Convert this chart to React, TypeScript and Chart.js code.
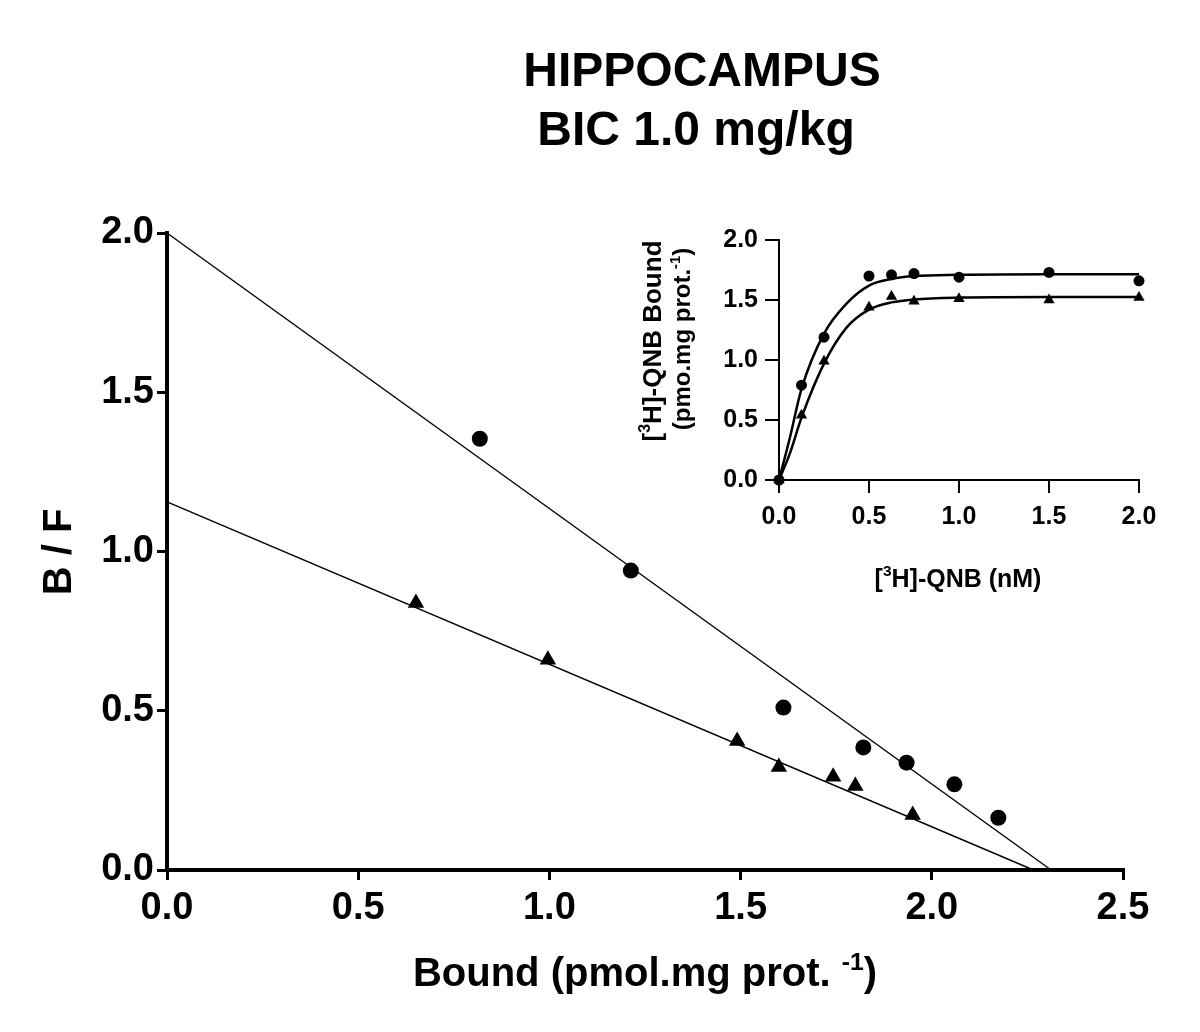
import React, { useEffect, useRef } from 'react';
import { Chart, registerables } from 'chart.js';

Chart.register(...registerables);

// ---------- Main (Scatchard) data ----------
const mainCircleX = [0.818, 1.213, 1.612, 1.821, 1.934, 2.059, 2.174];
const mainCircleY = [1.354, 0.94, 0.51, 0.385, 0.337, 0.269, 0.164];
const mainTriX = [0.651, 0.996, 1.491, 1.6, 1.742, 1.8, 1.95];
const mainTriY = [0.838, 0.66, 0.405, 0.323, 0.293, 0.264, 0.173];
const fitCircleX = [0, 2.312];
const fitCircleY = [2.0, 0];
const fitTriX = [0, 2.266];
const fitTriY = [1.156, 0];
const mainXTicks = [0, 0.5, 1.0, 1.5, 2.0, 2.5];
const mainYTicks = [0, 0.5, 1.0, 1.5, 2.0];

// ---------- Inset (saturation) data ----------
const insetX = [0, 0.125, 0.25, 0.5, 0.625, 0.75, 1.0, 1.5, 2.0];
const insetCircleY = [0, 0.79, 1.19, 1.7, 1.71, 1.72, 1.69, 1.73, 1.66];
const insetTriY = [0, 0.54, 0.99, 1.44, 1.53, 1.49, 1.51, 1.5, 1.52];
const curveX = [0, 0.06, 0.125, 0.25, 0.375, 0.5, 0.625, 0.75, 1.0, 1.5, 2.0];
const curveCircleY = [0, 0.35, 0.76, 1.22, 1.47, 1.62, 1.675, 1.7, 1.71, 1.715, 1.715];
const curveTriY = [0, 0.22, 0.52, 0.97, 1.27, 1.42, 1.48, 1.505, 1.52, 1.525, 1.525];
const insetXTicks = [0, 0.5, 1.0, 1.5, 2.0];
const insetYTicks = [0, 0.5, 1.0, 1.5, 2.0];

const FAMILY = "'Liberation Sans', Arial, Helvetica, sans-serif";

type Seg = { t: string; sup?: boolean };

function drawRich(ctx: CanvasRenderingContext2D, segs: Seg[], cx: number, cy: number, size: number, rot = 0) {
  ctx.save();
  ctx.translate(cx, cy);
  ctx.rotate(rot);
  ctx.fillStyle = '#000';
  ctx.textBaseline = 'alphabetic';
  ctx.textAlign = 'left';
  const supSize = size * 0.62;
  let total = 0;
  const widths = segs.map((s) => {
    ctx.font = `bold ${s.sup ? supSize : size}px ${FAMILY}`;
    const w = ctx.measureText(s.t).width;
    total += w;
    return w;
  });
  let x = -total / 2;
  const base = size * 0.358;
  segs.forEach((s, i) => {
    ctx.font = `bold ${s.sup ? supSize : size}px ${FAMILY}`;
    ctx.fillText(s.t, x, s.sup ? base - size * 0.42 : base);
    x += widths[i];
  });
  ctx.restore();
}

const pts = (xs: number[], ys: number[]) => xs.map((x, i) => ({ x, y: ys[i] }));

export default function App() {
  const mainRef = useRef<HTMLCanvasElement>(null);
  const insetRef = useRef<HTMLCanvasElement>(null);

  useEffect(() => {
    const mainPlugin = {
      id: 'mainText',
      afterDraw(chart: any) {
        const ctx = chart.ctx as CanvasRenderingContext2D;
        drawRich(ctx, [{ t: 'HIPPOCAMPUS' }], 702, 69, 48);
        drawRich(ctx, [{ t: 'BIC 1.0 mg/kg' }], 696, 128, 48);
        drawRich(ctx, [{ t: 'Bound (pmol.mg prot. ' }, { t: '-1', sup: true }, { t: ')' }], 645, 972, 40);
        drawRich(ctx, [{ t: 'B / F' }], 57, 552, 40, -Math.PI / 2);
      },
    };

    const main = new Chart(mainRef.current!, {
      type: 'scatter',
      data: {
        datasets: [
          {
            data: pts(fitCircleX, fitCircleY),
            showLine: true,
            borderColor: '#000',
            borderWidth: 1.4,
            pointRadius: 0,
            clip: false,
          },
          {
            data: pts(fitTriX, fitTriY),
            showLine: true,
            borderColor: '#000',
            borderWidth: 1.4,
            pointRadius: 0,
            clip: false,
          },
          {
            data: pts(mainCircleX, mainCircleY),
            pointStyle: 'circle',
            pointRadius: 8,
            backgroundColor: '#000',
            borderColor: '#000',
            borderWidth: 0,
            clip: false,
          },
          {
            data: pts(mainTriX, mainTriY),
            pointStyle: 'triangle',
            pointRadius: 9.5,
            backgroundColor: '#000',
            borderColor: '#000',
            borderWidth: 0,
            clip: false,
          },
        ],
      },
      options: {
        animation: false,
        responsive: false,
        events: [],
        layout: { padding: { top: 233, right: 77, left: 0, bottom: 0 } },
        plugins: { legend: { display: false }, tooltip: { enabled: false }, title: { display: false } },
        scales: {
          x: {
            type: 'linear',
            min: 0,
            max: 2.5,
            afterBuildTicks: (s: any) => {
              s.ticks = mainXTicks.map((v) => ({ value: v }));
            },
            afterFit: (s: any) => {
              s.height = 162;
            },
            ticks: {
              callback: (v: any) => Number(v).toFixed(1),
              font: { family: FAMILY, size: 38, weight: 'bold' },
              color: '#000',
              padding: 6,
              maxRotation: 0,
              autoSkip: false,
            },
            grid: { drawOnChartArea: false, drawTicks: true, tickLength: 10, color: '#000', lineWidth: 3 },
            border: { display: true, color: '#000', width: 4 },
          },
          y: {
            type: 'linear',
            min: 0,
            max: 2.0,
            afterBuildTicks: (s: any) => {
              s.ticks = mainYTicks.map((v) => ({ value: v }));
            },
            afterFit: (s: any) => {
              s.width = 167;
            },
            ticks: {
              callback: (v: any) => Number(v).toFixed(1),
              font: { family: FAMILY, size: 38, weight: 'bold' },
              color: '#000',
              padding: 3,
              autoSkip: false,
            },
            grid: { drawOnChartArea: false, drawTicks: true, tickLength: 10, color: '#000', lineWidth: 3 },
            border: { display: true, color: '#000', width: 4 },
          },
        },
      },
      plugins: [mainPlugin],
    } as any);

    const insetPlugin = {
      id: 'insetText',
      afterDraw(chart: any) {
        const ctx = chart.ctx as CanvasRenderingContext2D;
        drawRich(ctx, [{ t: '[' }, { t: '3', sup: true }, { t: 'H]-QNB Bound' }], 52, 141, 26, -Math.PI / 2);
        drawRich(ctx, [{ t: '(pmo.mg prot.' }, { t: '-1', sup: true }, { t: ')' }], 81, 139, 24, -Math.PI / 2);
        drawRich(ctx, [{ t: '[' }, { t: '3', sup: true }, { t: 'H]-QNB (nM)' }], 358, 378, 25);
      },
    };

    const inset = new Chart(insetRef.current!, {
      type: 'scatter',
      data: {
        datasets: [
          {
            data: pts(curveX, curveCircleY),
            showLine: true,
            borderColor: '#000',
            borderWidth: 2.5,
            pointRadius: 0,
            cubicInterpolationMode: 'monotone',
            clip: false,
          },
          {
            data: pts(curveX, curveTriY),
            showLine: true,
            borderColor: '#000',
            borderWidth: 2.5,
            pointRadius: 0,
            cubicInterpolationMode: 'monotone',
            clip: false,
          },
          {
            data: pts(insetX, insetCircleY),
            pointStyle: 'circle',
            pointRadius: 5.5,
            backgroundColor: '#000',
            borderColor: '#000',
            borderWidth: 0,
            clip: false,
          },
          {
            data: pts(insetX, insetTriY),
            pointStyle: 'triangle',
            pointRadius: 6.5,
            backgroundColor: '#000',
            borderColor: '#000',
            borderWidth: 0,
            clip: false,
          },
        ],
      },
      options: {
        animation: false,
        responsive: false,
        events: [],
        layout: { padding: { top: 40, right: 41, left: 0, bottom: 0 } },
        plugins: { legend: { display: false }, tooltip: { enabled: false }, title: { display: false } },
        scales: {
          x: {
            type: 'linear',
            min: 0,
            max: 2.0,
            afterBuildTicks: (s: any) => {
              s.ticks = insetXTicks.map((v) => ({ value: v }));
            },
            afterFit: (s: any) => {
              s.height = 140;
            },
            ticks: {
              callback: (v: any) => Number(v).toFixed(1),
              font: { family: FAMILY, size: 25, weight: 'bold' },
              color: '#000',
              padding: 9,
              maxRotation: 0,
              autoSkip: false,
            },
            grid: { drawOnChartArea: false, drawTicks: true, tickLength: 13, color: '#000', lineWidth: 2 },
            border: { display: true, color: '#000', width: 2 },
          },
          y: {
            type: 'linear',
            min: 0,
            max: 2.0,
            afterBuildTicks: (s: any) => {
              s.ticks = insetYTicks.map((v) => ({ value: v }));
            },
            afterFit: (s: any) => {
              s.width = 179;
            },
            ticks: {
              callback: (v: any) => Number(v).toFixed(1),
              font: { family: FAMILY, size: 25, weight: 'bold' },
              color: '#000',
              padding: 7,
              autoSkip: false,
            },
            grid: { drawOnChartArea: false, drawTicks: true, tickLength: 14, color: '#000', lineWidth: 2 },
            border: { display: true, color: '#000', width: 2 },
          },
        },
      },
      plugins: [insetPlugin],
    } as any);

    return () => {
      main.destroy();
      inset.destroy();
    };
  }, []);

  return (
    <div style={{ position: 'absolute', left: 0, top: 0, width: 1200, height: 1032, background: '#fff' }}>
      <canvas
        ref={mainRef}
        width={1200}
        height={1032}
        style={{ position: 'absolute', left: 0, top: 0, width: 1200, height: 1032, display: 'block' }}
      />
      <canvas
        ref={insetRef}
        width={580}
        height={420}
        style={{ position: 'absolute', left: 600, top: 200, width: 580, height: 420, display: 'block' }}
      />
    </div>
  );
}
